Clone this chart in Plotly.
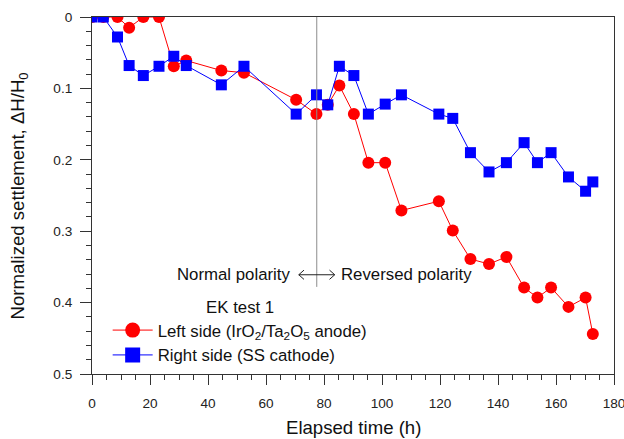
import plotly.graph_objects as go

# Elapsed time (h)
time_h = [0, 3.9, 8.8, 12.8, 17.7, 23.1, 28.2, 32.5, 44.6, 52.4, 70.4, 77.4, 81.3, 85.3,
          90.3, 95.3, 101.1, 106.7, 119.6, 124.4, 130.5, 136.9, 142.9, 149.0, 153.6,
          158.3, 164.3, 170.2, 172.7]
# Left side (IrO2/Ta2O5 anode)
left_side = [0, 0, 0, 0.015, 0, 0, 0.069, 0.061, 0.075, 0.078, 0.116, 0.136, 0.123, 0.096,
             0.136, 0.204, 0.204, 0.271, 0.258, 0.299, 0.339, 0.346, 0.336, 0.379, 0.393,
             0.379, 0.406, 0.393, 0.444]
# Right side (SS cathode)
right_side = [0, 0, 0.028, 0.068, 0.082, 0.069, 0.055, 0.068, 0.095, 0.069, 0.136, 0.109,
              0.123, 0.069, 0.082, 0.136, 0.122, 0.109, 0.136, 0.142, 0.190, 0.217, 0.204,
              0.176, 0.204, 0.190, 0.224, 0.244, 0.231]

polarity_switch_h = 77.5
label_y = 0.361

RED = "#FF0000"
BLUE = "#0000FF"
FONT = "Liberation Sans, Arial, sans-serif"
TXT = 16.8
TITLE = 18.6

fig = go.Figure()
fig.add_trace(go.Scatter(x=time_h, y=left_side, mode="lines+markers", showlegend=False,
                         line=dict(color=RED, width=1),
                         marker=dict(symbol="circle", size=12, color=RED)))
fig.add_trace(go.Scatter(x=time_h, y=right_side, mode="lines+markers", showlegend=False,
                         line=dict(color=BLUE, width=1),
                         marker=dict(symbol="square", size=11, color=BLUE)))
# legend entries
fig.add_trace(go.Scatter(x=[None], y=[None], mode="lines+markers", legendgroup="a",
                         name="Left side (IrO<sub>2</sub>/Ta<sub>2</sub>O<sub>5</sub> anode)",
                         line=dict(color=RED, width=1),
                         marker=dict(symbol="circle", size=15, color=RED)))
fig.add_trace(go.Scatter(x=[None], y=[None], mode="lines+markers", legendgroup="b",
                         name="Right side (SS cathode)",
                         line=dict(color=BLUE, width=1),
                         marker=dict(symbol="square", size=15, color=BLUE)))

# polarity switch line
fig.add_shape(type="line", x0=polarity_switch_h, x1=polarity_switch_h, y0=0, y1=0.378,
              xref="x", yref="y", line=dict(color="#8c8c8c", width=1))
# double-headed arrow
ax0, ax1 = 71.3, 83.7
hw, hh = 1.8, 0.0065
fig.add_shape(type="path", xref="x", yref="y",
              path=(f"M {ax0},{label_y} L {ax1},{label_y} "
                    f"M {ax0+hw},{label_y-hh} L {ax0},{label_y} L {ax0+hw},{label_y+hh} "
                    f"M {ax1-hw},{label_y-hh} L {ax1},{label_y} L {ax1-hw},{label_y+hh}"),
              line=dict(color="#222", width=1))
fig.add_annotation(x=ax0 - 2.2, y=label_y, text="Normal polarity", showarrow=False,
                   xanchor="right", yanchor="middle", font=dict(size=TXT, color="#111", family=FONT))
fig.add_annotation(x=ax1 + 1.6, y=label_y, text="Reversed polarity", showarrow=False,
                   xanchor="left", yanchor="middle", font=dict(size=TXT, color="#111", family=FONT))

# axis titles
fig.add_annotation(x=0.5, y=-0.151, xref="paper", yref="paper", text="Elapsed time (h)",
                   showarrow=False, xanchor="center", yanchor="middle",
                   font=dict(size=TITLE, family=FONT, color="#111"))
fig.add_annotation(x=-0.14, y=0.5, xref="paper", yref="paper",
                   text="Normalized settlement, ΔH/H<sub>0</sub>", textangle=-90,
                   showarrow=False, xanchor="center", yanchor="middle",
                   font=dict(size=TITLE, family=FONT, color="#111"))

fig.update_layout(
    width=624, height=439,
    margin=dict(l=92, r=10, t=17, b=65),
    paper_bgcolor="white", plot_bgcolor="white",
    font=dict(family=FONT, color="#111"),
    legend=dict(x=0.03, y=0.233, xanchor="left", yanchor="top",
                bgcolor="rgba(0,0,0,0)", font=dict(size=TXT, family=FONT, color="#111"),
                title=dict(text="EK test 1", side="top center",
                           font=dict(size=TXT, family=FONT, color="#111")),
                tracegroupgap=0, itemwidth=40),
    xaxis=dict(range=[0, 180], dtick=20, tick0=0, showgrid=False, zeroline=False,
               showline=True, linecolor="#333", linewidth=1, mirror=True, automargin=False,
               ticks="outside", ticklen=10, tickcolor="#333", tickwidth=1,
               ticklabelstandoff=7, ticklabeloverflow="allow",
               minor=dict(dtick=5, ticks="outside", ticklen=5, tickcolor="#333", showgrid=False),
               tickfont=dict(size=13.6, family=FONT, color="#222")),
    yaxis=dict(range=[0.5, 0], dtick=0.1, tick0=0, showgrid=False, zeroline=False,
               showline=True, linecolor="#333", linewidth=1, mirror=True, automargin=False,
               ticks="outside", ticklen=11, tickcolor="#333", tickwidth=1,
               ticklabelstandoff=5, ticklabeloverflow="allow",
               minor=dict(dtick=0.02, ticks="outside", ticklen=5, tickcolor="#333", showgrid=False),
               tickfont=dict(size=13.6, family=FONT, color="#222")),
)

fig.write_html("out.html")
